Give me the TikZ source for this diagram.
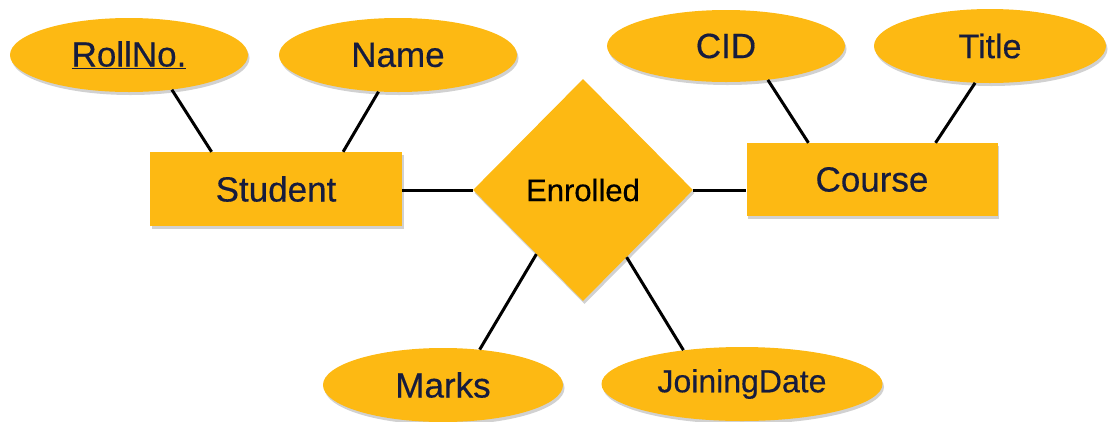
\documentclass[tikz,border=0pt]{standalone}
\usepackage{fontspec}
\setmainfont{Liberation Sans}[FakeBold=0.4]
\usetikzlibrary{shapes.geometric,shadows}
\definecolor{erfill}{RGB}{253,185,19}
\definecolor{ertext}{RGB}{22,28,62}
\tikzset{
  soft/.style={drop shadow={shadow xshift=1.5pt,shadow yshift=-3pt,opacity=0.3,fill=black!60}},
  attr/.style={ellipse, fill=erfill, soft, inner sep=0pt, minimum width=238pt, minimum height=74pt, text=ertext, font=\fontsize{35}{40}\selectfont},
  entity/.style={rectangle, fill=erfill, soft, inner sep=0pt, minimum width=252pt, minimum height=74pt, text=ertext, font=\fontsize{35}{40}\selectfont},
  rel/.style={diamond, fill=erfill, soft, inner sep=0pt, minimum width=220pt, minimum height=222pt, font=\fontsize{31}{36}\selectfont},
  link/.style={draw, line width=3pt, -}
}
\begin{document}
\begin{tikzpicture}[x=1pt,y=-1pt]
\useasboundingbox (0,0) rectangle (1109,421);
\node[attr] (roll) at (129,55) {\underline{RollNo.}};
\node[attr] (name) at (398,55) {Name};
\node[attr, minimum height=72pt] (cid) at (726,46) {CID};
\node[attr, minimum width=232pt, font=\fontsize{34}{40}\selectfont] (title) at (990,46) {Title};
\node[entity] (student) at (276,189) {Student};
\node[entity, minimum width=251pt, minimum height=73pt] (course) at (872,179.5) {Course};
\node[rel] (enrolled) at (583,190) {Enrolled};
\node[attr, minimum width=240pt] (marks) at (443,385) {Marks};
\node[attr, minimum width=281pt, font=\fontsize{32}{38}\selectfont] (joining) at (742,384) {JoiningDate};

\path[link] (roll.-39) -- (student.150);
\path[link] (name.-118) -- (student.29);
\path[link] (cid.-39) -- (course.150);
\path[link] (title.-112) -- (course.30);
\path[link] (student.east |- enrolled.west) -- (enrolled.west);
\path[link] (enrolled.east) -- (enrolled.east -| course.west);
\path[link] (enrolled.-126) -- (marks.44);
\path[link] (enrolled.-57) -- (joining.150);
\end{tikzpicture}
\end{document}
